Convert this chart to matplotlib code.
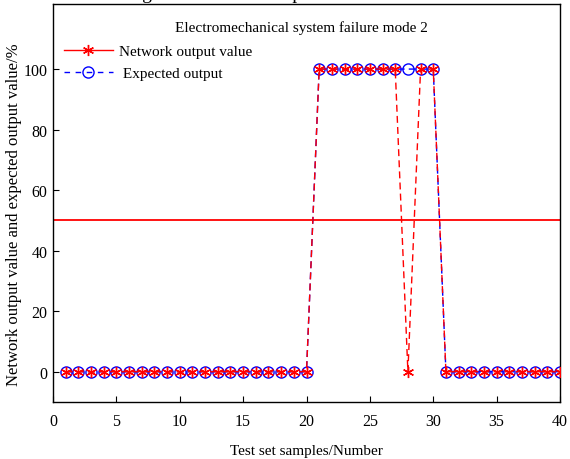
import matplotlib
matplotlib.use("Agg")
import matplotlib.pyplot as plt
from matplotlib.lines import Line2D

samples = list(range(1, 41))
expected = [0]*20 + [100]*10 + [0]*10
network = [0]*20 + [100]*7 + [0] + [100]*2 + [0]*10
threshold = 50

plt.rcParams['font.family'] = ['Liberation Serif', 'DejaVu Serif']
fig = plt.figure(figsize=(5.7, 4.6), dpi=100)
ax = fig.add_axes([53/570, 1-403/460, (560-53)/570, (403-5)/460])

star = (6, 2, 0)
ax.plot(samples, expected, color='blue', linestyle='--', dashes=(5, 3), lw=1.0,
        marker='o', markersize=8, markerfacecolor='none', markeredgecolor='blue',
        markeredgewidth=1.0, zorder=2)
ax.plot(samples, network, color='red', linestyle='--', dashes=(5, 3), lw=1.0,
        marker=star, markersize=8, markeredgewidth=1.0, zorder=3)
ax.axhline(threshold, color='red', lw=1.3, zorder=1)

ax.set_xlim(0, 40)
ax.set_ylim(-10, 121.5)
ax.set_xticks(range(0, 41, 5))
ax.set_yticks(range(0, 101, 20))
ax.tick_params(direction='in', labelsize=11.5, length=4)
ax.tick_params(axis='x', pad=8)
ax.tick_params(axis='y', pad=4)
for s in ax.spines.values():
    s.set_linewidth(1.0)

ax.set_xlabel('Test set samples/Number', fontsize=11, labelpad=11)
fig.text(14/570, 1-215/460, 'Network output value and expected output value/%',
         fontsize=12, rotation=90, ha='center', va='center')
ax.text(19.6, 113.8, 'Electromechanical system failure mode 2', fontsize=11,
        ha='center', va='center')

handles = [
    Line2D([], [], color='red', lw=1.0, marker=star, markersize=8, markeredgewidth=1.0),
    Line2D([], [], color='blue', lw=1.0, linestyle='--', dashes=(4, 4), marker='o',
           markersize=8, markerfacecolor='none', markeredgecolor='blue'),
]
labels = ['Network output value', ' Expected output']
ax.legend(handles, labels, loc='upper left', bbox_to_anchor=(0.0, 0.925),
          frameon=False, fontsize=11, handlelength=3.2, handletextpad=0.45,
          labelspacing=0.55, borderaxespad=0.3)

fig.text(0.2, 1.003, 'Diagram of test set output', fontsize=14, va='baseline')

fig.savefig('out.png', dpi=100)
